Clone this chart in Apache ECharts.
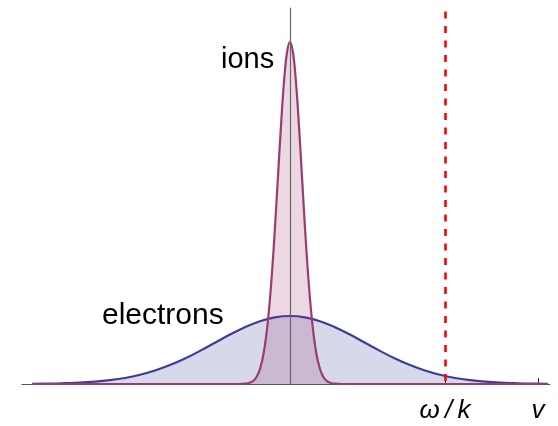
<!DOCTYPE html>
<html>
<head>
<meta charset="utf-8">
<style>
  html, body { margin: 0; padding: 0; background: #ffffff; }
  #chart { width: 558px; height: 426px; }
</style>
<script src="https://cdn.jsdelivr.net/npm/echarts@6/dist/echarts.min.js"></script>
</head>
<body>
<div id="chart"></div>
<script>
// Velocity axis in units of the electron thermal speed
const electronV = [-3.44, -3.2, -3.0, -2.8, -2.6, -2.4, -2.2, -2.0, -1.8, -1.6, -1.4, -1.2, -1.0, -0.8, -0.6, -0.4, -0.2,
  0, 0.2, 0.4, 0.6, 0.8, 1.0, 1.2, 1.4, 1.6, 1.8, 2.0, 2.2, 2.4, 2.6, 2.8, 3.0, 3.2, 3.44];
const electronF = [0.002, 0.004, 0.008, 0.013, 0.023, 0.038, 0.060, 0.092, 0.135, 0.189, 0.255, 0.331, 0.412, 0.494, 0.568, 0.628, 0.667,
  0.680, 0.667, 0.628, 0.568, 0.494, 0.412, 0.331, 0.255, 0.189, 0.135, 0.092, 0.060, 0.038, 0.023, 0.013, 0.008, 0.004, 0.002];

const ionV = [-3.44, -2.4, -1.4, -0.9, -0.7, -0.64, -0.6, -0.56, -0.52, -0.48, -0.44, -0.40, -0.36, -0.32, -0.28, -0.24, -0.20, -0.16, -0.12, -0.08, -0.04,
  0, 0.04, 0.08, 0.12, 0.16, 0.20, 0.24, 0.28, 0.32, 0.36, 0.40, 0.44, 0.48, 0.52, 0.56, 0.6, 0.64, 0.7, 0.9, 1.4, 2.4, 3.44];
const ionF = [0, 0, 0, 0, 0, 0.001, 0.003, 0.007, 0.017, 0.038, 0.078, 0.150, 0.272, 0.463, 0.740, 1.110, 1.566, 2.074, 2.581, 3.018, 3.315,
  3.420, 3.315, 3.018, 2.581, 2.074, 1.566, 1.110, 0.740, 0.463, 0.272, 0.150, 0.078, 0.038, 0.017, 0.007, 0.003, 0.001, 0, 0, 0, 0, 0];

// Phase velocity and the end tick of the velocity axis
const tickValues = [2.067, 3.307];
const tickLabels = ['\u03C9\u2009/\u2009k', 'v'];
const phaseVelocity = tickValues[0];

const curveLabels = ['electrons', 'ions'];

const xMin = -3.573, xMax = 3.467;
const yMin = 0, yMax = 3.76;

const zip = (xs, ys) => xs.map((x, i) => [x, ys[i]]);

const chart = echarts.init(document.getElementById('chart'), null, { renderer: 'canvas' });

chart.setOption({
  animation: false,
  backgroundColor: '#ffffff',
  grid: { left: 22, right: 8, top: 8, bottom: 42, containLabel: false },
  xAxis: {
    type: 'value',
    min: xMin,
    max: xMax,
    splitLine: { show: false },
    axisLine: { show: true, onZero: true, lineStyle: { color: '#555555', width: 1 } },
    axisTick: {
      show: true,
      inside: true,
      length: 6,
      customValues: tickValues,
      lineStyle: { color: '#222222', width: 1 }
    },
    axisLabel: {
      show: true,
      customValues: tickValues,
      margin: 14,
      formatter: function (val) {
        const i = tickValues.findIndex(t => Math.abs(t - val) < 1e-6);
        return i >= 0 ? tickLabels[i] : '';
      },
      fontFamily: 'Liberation Sans',
      fontStyle: 'italic',
      fontSize: 26,
      color: '#000000'
    }
  },
  yAxis: {
    type: 'value',
    min: yMin,
    max: yMax,
    z: 5,
    splitLine: { show: false },
    axisLine: { show: true, onZero: true, lineStyle: { color: '#666666', width: 1.2 } },
    axisTick: { show: false },
    axisLabel: { show: false }
  },
  series: [
    {
      name: curveLabels[0],
      type: 'line',
      data: zip(electronV, electronF),
      smooth: 0.4,
      showSymbol: false,
      symbol: 'none',
      z: 2,
      lineStyle: { color: '#3d3d99', width: 2.2 },
      areaStyle: { color: '#3d3d99', opacity: 0.2, origin: 'start' }
    },
    {
      name: curveLabels[1],
      type: 'line',
      data: zip(ionV, ionF),
      smooth: 0.4,
      showSymbol: false,
      symbol: 'none',
      z: 3,
      lineStyle: { color: '#993d71', width: 2.2 },
      areaStyle: { color: '#993d71', opacity: 0.2, origin: 'start' }
    },
    {
      name: 'phase velocity',
      type: 'line',
      data: [],
      z: 6,
      markLine: {
        silent: true,
        symbol: ['none', 'none'],
        label: { show: false },
        lineStyle: { color: '#ff0000', width: 2.6, type: [7, 7.5], dashOffset: 11.5 },
        data: [{ xAxis: phaseVelocity }]
      }
    }
  ],
  graphic: [
    {
      type: 'text',
      left: 102,
      top: 301,
      style: { text: curveLabels[0], font: '30px "Liberation Sans"', fill: '#000000' }
    },
    {
      type: 'text',
      left: 221,
      top: 45,
      style: { text: curveLabels[1], font: '29px "Liberation Sans"', fill: '#000000' }
    }
  ]
});
</script>
</body>
</html>
